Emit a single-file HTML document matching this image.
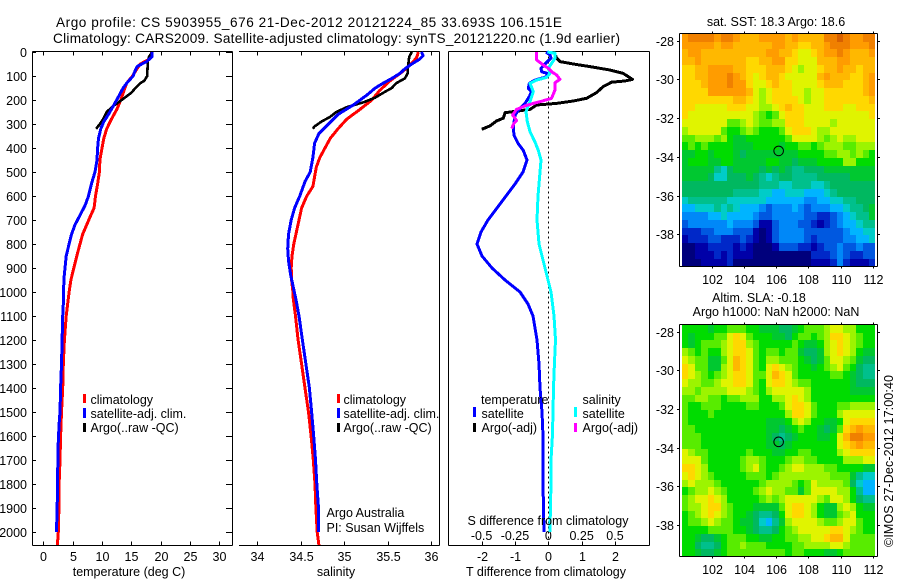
<!DOCTYPE html>
<html>
<head>
<meta charset="utf-8">
<title>Argo profile</title>
<style>
html,body{margin:0;padding:0;background:#fff;}
svg{display:block;}
text{font-family:"Liberation Sans",sans-serif;font-size:12.5px;fill:#000;}
.t{font-size:13.6px;}
</style>
</head>
<body>
<svg id="chart" xmlns="http://www.w3.org/2000/svg" width="900" height="580" viewBox="0 0 900 580">
<rect x="0" y="0" width="900" height="580" fill="#fff"/>
<text class="t" x="56" y="27" textLength="506" lengthAdjust="spacing">Argo profile: CS 5903955_676 21-Dec-2012 20121224_85 33.693S 106.151E</text>
<text class="t" x="53" y="43" textLength="567" lengthAdjust="spacing">Climatology: CARS2009. Satellite-adjusted climatology: synTS_20121220.nc (1.9d earlier)</text>

<g id="p1"></g>
<g id="p2"></g>
<g id="p3"></g>
<g id="m1"></g>
<g id="m2"></g>

<text x="129" y="576" text-anchor="middle">temperature (deg C)</text>
<text x="336" y="576" text-anchor="middle">salinity</text>
<text x="546" y="576" text-anchor="middle">T difference from climatology</text>
<text x="548" y="525" text-anchor="middle">S difference from climatology</text>

<g>
<rect x="83" y="394" width="3" height="9" fill="#f00"/>
<rect x="83" y="408" width="3" height="10" fill="#00f"/>
<rect x="83" y="423" width="3" height="9" fill="#000"/>
<text x="90.5" y="404">climatology</text>
<text x="90.5" y="418">satellite-adj. clim.</text>
<text x="90.5" y="432">Argo(..raw -QC)</text>
</g>
<g>
<rect x="337" y="394" width="3" height="9" fill="#f00"/>
<rect x="337" y="408" width="3" height="10" fill="#00f"/>
<rect x="337" y="423" width="3" height="9" fill="#000"/>
<text x="343.5" y="404">climatology</text>
<text x="343.5" y="418">satellite-adj. clim.</text>
<text x="343.5" y="432">Argo(..raw -QC)</text>
</g>
<text x="326.5" y="517">Argo Australia</text>
<text x="326.5" y="532">PI: Susan Wijffels</text>
<g>
<text x="481" y="404">temperature</text>
<rect x="473" y="407" width="3" height="10" fill="#00f"/>
<rect x="473" y="423" width="3" height="9" fill="#000"/>
<text x="481.5" y="418">satellite</text>
<text x="481.5" y="432">Argo(-adj)</text>
<text x="582.5" y="404">salinity</text>
<rect x="574" y="407" width="3" height="10" fill="#0ff"/>
<rect x="574" y="423" width="3" height="9" fill="#f0f"/>
<text x="582.5" y="418">satellite</text>
<text x="582.5" y="432">Argo(-adj)</text>
</g>

<text x="776" y="26" text-anchor="middle">sat. SST: 18.3 Argo: 18.6</text>
<text x="759" y="302" text-anchor="middle">Altim. SLA: -0.18</text>
<text x="776" y="316" text-anchor="middle">Argo h1000: NaN h2000: NaN</text>
<text transform="translate(893,547) rotate(-90)" textLength="172" lengthAdjust="spacing">©IMOS 27-Dec-2012 17:00:40</text>
</svg>

<script>
// ---------- profile data ----------
const depthTicks = [0,100,200,300,400,500,600,700,800,900,1000,1100,1200,1300,1400,1500,1600,1700,1800,1900,2000];
const tempTicks = [0,5,10,15,20,25,30];
const salTicks = [34,34.5,35,35.5,36];
const salTickLabels = ['34','34.5','35','35.5','36'];
const tDiffTicks = [-2,-1,0,1,2];
const tDiffLabels = ['-2','-1','0','1','2'];
const sDiffTicks = [-0.5,-0.25,0,0.25,0.5];
const sDiffLabels = ['-0.5','-0.25','0','0.25','0.5'];

const tempClimDepth = [0,30,50,80,100,130,160,200,240,280,320,360,400,450,500,550,600,650,680,720,760,800,850,900,950,1000,1100,1200,1300,1400,1500,1600,1700,1800,1900,2000,2054];
const tempClimValues = [18.5,18.1,16.5,15.7,15.2,14.2,13.75,13.2,12.5,11.6,10.8,10.3,10,9.65,9.55,9.25,8.9,8.65,8.1,7.4,6.7,6.25,5.7,5.2,4.7,4.4,3.9,3.6,3.4,3.3,3.1,2.95,2.85,2.7,2.65,2.55,2.4];
const tempSatDepth = [0,20,40,60,80,100,130,150,200,230,260,290,320,360,400,450,500,550,600,640,680,720,760,800,850,900,950,1000,1050,1100,1200,1300,1400,1500,1550,1650,1850,2000];
const tempSatValues = [18.5,18.5,17.6,16,15.6,15.3,14.2,13.6,12.5,11.8,11.1,10.3,9.8,9.4,9.25,9.15,8.8,8.2,7.7,7.1,6.25,5.4,4.8,4.4,3.9,3.7,3.5,3.47,3.4,3.3,3.2,3.1,2.95,2.85,2.7,2.5,2.4,2.25];
const tempArgoDepth = [0,10,20,40,100,120,130,150,170,190,210,225,250,280,300,320];
const tempArgoValues = [18.5,18.3,18,17.8,17.7,17.2,16.5,15.7,15,13.9,12.8,11.9,10.8,10.2,9.65,9];

const salClimDepth = [0,20,40,60,80,120,160,200,240,280,320,360,400,440,480,520,560,600,650,700,750,800,850,900,950,1000,1030,1100,1200,1300,1400,1500,1600,1700,1800,1900,2000,2054];
const salClimValues = [35.855,35.84,35.8,35.74,35.68,35.53,35.41,35.32,35.18,35.03,34.93,34.84,34.78,34.72,34.68,34.66,34.64,34.57,34.51,34.48,34.45,34.42,34.4,34.39,34.395,34.41,34.415,34.44,34.47,34.51,34.55,34.59,34.62,34.645,34.665,34.675,34.69,34.71];
const salSatDepth = [0,15,30,50,70,90,110,130,150,180,220,260,300,340,380,440,500,540,600,650,700,760,820,870,930,980,1030,1100,1200,1300,1400,1500,1600,1700,1800,1900,2000];
const salSatValues = [35.89,35.91,35.87,35.78,35.7,35.64,35.55,35.45,35.36,35.26,35.11,34.93,34.82,34.71,34.66,34.64,34.61,34.55,34.49,34.43,34.39,34.36,34.35,34.36,34.385,34.415,34.445,34.48,34.52,34.56,34.6,34.625,34.65,34.67,34.685,34.705,34.705];
const salArgoDepth = [0,20,50,90,110,130,150,170,190,210,230,250,270,290,310,320];
const salArgoValues = [35.78,35.75,35.74,35.73,35.7,35.6,35.55,35.45,35.36,35.22,35.03,34.91,34.84,34.74,34.66,34.64];

const tDiffArgoDepth = [12,19,40,50,61,75,89,114,121,126,144,169,193,204,214,221,239,253,276,287,308,322];
const tDiffArgoValues = [0.25,0.2,0.35,0.75,1.25,1.85,2.25,2.53,2.3,1.9,1.65,1.45,1.15,0.75,0.25,-0.35,-0.55,-1.3,-1.35,-1.55,-1.75,-2];
const tDiffSatDepth = [0,12,26,50,68,82,89,103,117,131,151,165,186,214,242,264,312,347,382,410,450,500,550,600,650,700,750,800,850,900,950,1000,1050,1100,1200,1300,1400,1500,1600,1800,2000];
const tDiffSatValues = [-0.07,0.05,0.08,-0.1,-0.22,-0.2,-0.03,-0.05,-0.4,-0.57,-0.6,-0.5,-0.57,-0.7,-0.9,-1,-1.05,-1.03,-0.9,-0.75,-0.64,-0.76,-1,-1.27,-1.54,-1.81,-2.02,-2.14,-1.99,-1.69,-1.3,-0.85,-0.61,-0.46,-0.34,-0.28,-0.25,-0.19,-0.16,-0.16,-0.13];
const sDiffSatDepth = [0,5,26,47,68,89,106,117,131,165,186,214,249,290,332,375,410,450,500,600,700,800,900,1000,1100,1200,1300,1400,1500,1600,1700,1800,1900,2000];
const sDiffSatValues = [-0.0075,0.05,0.05,0.025,0,0.0125,-0.0125,-0.0875,-0.1375,-0.1125,-0.125,-0.1425,-0.1675,-0.1575,-0.1375,-0.1,-0.075,-0.055,-0.062,-0.077,-0.085,-0.07,-0.025,0.02,0.043,0.054,0.046,0.039,0.035,0.031,0.02,0.02,0.016,0.013];
const sDiffArgoDepth = [0,19,33,54,68,82,96,114,128,158,193,207,214,225,239,262,285,298,319];
const sDiffArgoValues = [-0.0875,-0.0875,-0.0875,-0.0375,0,0.025,0.0625,0.0875,0.05,0.05,0.025,-0.0625,-0.1125,-0.175,-0.2375,-0.2675,-0.2375,-0.2575,-0.275];

// ---------- map data ----------
const mapLonTicks = [102,104,106,108,110,112];
const mapLatTicks = [28,30,32,34,36,38];
const argoLon = 106.151;
const argoLat = 33.693;
const levelColors = ['#00007c','#0000a8','#0028c8','#0058e0','#0088f8','#00b4ff','#00ccc8','#00c08c','#00b860','#00c830','#00dc00','#58ec00','#9cf400','#e0f400','#ffd800','#ffb800','#ff9c00','#f08000','#d86000'];
const sstLevels = [
[16,17,17,17,17,16,17,17,16,15,15,15,16,16,16,16,15,16,15,15,15,15,17,17,18,17,16,16,17,17],
[16,16,16,16,16,15,16,16,15,15,15,15,15,15,16,16,15,15,14,14,15,15,16,17,17,17,16,16,16,17],
[15,16,16,15,15,15,15,15,15,15,15,15,15,16,16,15,15,14,13,13,14,15,16,16,17,16,15,15,15,16],
[15,15,16,15,15,15,15,15,15,15,14,14,15,15,16,16,14,14,13,13,13,15,15,15,16,16,15,15,15,15],
[14,14,15,15,16,16,16,16,15,15,14,14,14,15,15,15,14,13,12,13,13,14,15,15,16,15,15,14,15,15],
[14,14,15,15,16,16,16,17,16,15,14,13,14,15,15,14,13,13,13,13,13,15,16,15,15,15,14,14,15,16],
[14,14,14,15,16,16,16,17,16,16,14,13,13,14,15,14,14,13,13,13,13,14,15,15,15,14,14,14,15,16],
[14,14,14,14,16,16,16,16,16,16,15,13,12,13,14,14,14,13,13,12,13,13,14,14,14,14,14,14,15,16],
[14,14,14,14,14,14,14,14,15,15,14,13,12,13,14,14,14,14,13,12,13,13,14,14,14,14,14,14,14,15],
[14,14,13,13,13,13,13,14,14,14,13,13,12,12,13,14,15,14,14,13,13,13,14,14,14,13,13,14,14,14],
[14,13,13,13,13,13,13,13,13,13,13,12,11,10,11,13,14,14,14,13,13,13,13,13,13,13,13,13,13,14],
[13,13,13,13,13,13,13,11,11,12,13,12,11,11,12,12,14,14,14,13,13,13,13,12,13,13,13,13,13,13],
[12,13,13,13,13,13,11,10,10,11,12,11,10,10,10,11,13,14,14,14,13,12,12,13,13,13,13,13,13,13],
[11,11,12,12,12,11,12,10,9,9,10,10,10,10,10,10,11,13,13,13,13,12,11,12,13,12,12,13,13,13],
[10,11,10,11,10,10,10,10,9,9,9,10,10,10,10,9,10,10,11,11,10,11,12,12,12,11,11,12,12,12],
[9,9,10,10,9,10,10,10,9,8,9,9,9,9,9,9,9,9,10,10,10,10,11,11,12,12,11,12,11,10],
[9,10,10,10,9,9,10,10,9,9,9,9,9,10,10,9,9,8,9,9,9,10,10,10,10,12,12,10,10,10],
[9,9,9,9,9,7,6,8,9,9,9,9,8,9,8,9,8,7,7,8,8,8,9,9,9,9,9,9,9,9],
[9,9,9,9,8,6,6,8,8,8,9,8,7,6,7,8,8,7,7,7,7,8,8,8,8,8,9,9,9,9],
[8,8,8,8,8,8,8,8,8,8,8,8,7,7,7,6,6,7,7,7,6,6,7,8,8,8,8,8,8,8],
[8,8,8,8,8,8,8,8,7,7,7,7,6,6,5,5,6,6,6,5,5,5,6,7,8,8,8,8,8,8],
[6,7,7,7,7,7,7,6,6,6,6,6,6,5,5,5,5,5,5,4,4,5,5,6,6,7,7,8,8,8],
[5,5,6,6,6,7,6,7,6,5,5,5,4,3,4,4,4,5,4,3,4,4,4,5,5,6,7,7,8,9],
[4,4,4,4,5,5,6,5,5,5,5,4,3,3,4,4,4,4,4,3,3,2,2,3,4,5,6,7,7,9],
[3,4,4,4,4,4,4,5,4,4,4,3,1,1,3,4,4,4,3,3,2,1,2,3,4,5,5,6,7,7],
[2,2,2,3,3,4,4,4,3,3,3,1,0,1,3,4,4,4,4,3,3,3,3,3,3,4,5,5,6,6],
[1,2,2,2,3,3,2,2,2,3,2,1,0,1,3,4,4,4,4,3,2,3,3,3,3,4,4,5,5,6],
[0,0,1,1,2,2,2,2,1,2,1,0,0,0,1,3,3,3,2,2,1,2,3,3,4,3,3,4,3,3],
[0,0,1,1,1,2,1,2,1,1,1,0,0,0,0,0,0,0,0,0,2,2,2,3,4,3,2,2,3,3],
[0,0,0,1,1,1,1,2,0,0,0,0,0,0,0,0,0,0,0,0,1,1,1,2,4,2,1,1,1,2]
];
const slaLevels = [
[10,10,10,10,9,10,10,11,11,11,10,10,9,9,9,8,8,9,10,11,11,11,12,13,13,12,12,10,10,10],
[10,9,10,10,10,11,11,13,14,13,11,10,10,10,9,9,8,10,11,11,10,11,12,14,14,13,12,11,10,10],
[10,9,10,11,11,11,12,13,14,14,12,11,10,10,10,10,10,11,10,9,9,10,12,13,14,13,12,11,10,10],
[12,11,10,11,10,10,12,13,14,14,13,11,10,11,11,10,11,11,9,8,8,9,12,13,14,13,12,10,9,9],
[13,12,11,11,9,9,11,13,15,14,13,11,10,12,12,11,11,11,10,9,8,9,11,13,13,12,11,9,8,8],
[14,13,11,11,9,9,12,13,15,14,13,11,10,13,14,13,12,11,10,10,9,10,11,12,13,11,10,8,7,7],
[14,13,12,11,10,11,12,13,14,14,13,11,11,13,15,14,13,11,10,10,10,10,10,11,11,10,9,8,7,7],
[13,12,12,11,11,12,13,13,14,14,13,11,10,13,14,14,13,12,11,11,10,10,10,10,10,10,9,8,8,8],
[12,12,11,12,12,12,12,13,13,13,12,11,10,12,13,13,13,13,13,12,10,10,10,10,10,10,9,9,9,9],
[11,11,12,12,11,11,10,11,11,12,12,12,10,10,12,12,13,14,13,12,10,10,10,10,10,10,10,10,10,10],
[11,10,10,11,11,11,10,10,10,10,11,11,10,10,10,11,13,14,14,13,11,10,10,10,11,11,12,12,12,12],
[11,10,10,10,11,10,10,10,10,10,10,10,10,10,10,10,12,14,14,13,11,10,10,10,12,13,13,13,13,13],
[11,10,10,10,10,10,10,10,10,10,10,10,10,9,9,9,10,12,13,12,10,10,9,9,10,13,14,14,14,14],
[11,11,10,10,10,10,10,10,10,10,10,10,10,9,9,8,9,10,11,10,10,9,8,9,11,14,15,16,15,15],
[11,11,11,10,10,10,10,10,10,10,10,10,10,9,8,7,8,9,10,10,10,9,9,10,13,15,17,17,16,16],
[11,11,11,10,10,10,10,10,10,10,10,10,10,9,9,8,9,10,10,10,10,10,10,10,13,14,15,16,15,15],
[13,12,11,11,10,10,10,10,10,10,11,10,10,10,9,9,10,10,11,11,10,10,10,10,12,13,14,14,14,14],
[13,13,13,11,10,10,10,10,10,11,12,12,11,10,10,10,11,12,12,11,11,10,10,10,10,12,12,12,13,13],
[14,14,13,12,10,10,10,10,10,11,12,13,11,10,10,11,12,13,13,12,12,12,11,11,10,10,10,10,9,9],
[13,14,13,12,11,10,10,10,10,10,11,11,11,10,11,12,12,12,12,12,12,12,12,11,11,11,9,7,6,6],
[12,13,12,12,12,11,10,10,10,10,10,10,11,12,12,12,12,11,10,11,13,12,12,12,12,11,8,6,5,5],
[10,11,12,12,13,12,11,10,10,10,10,11,12,13,12,12,11,11,9,11,13,13,13,13,12,12,10,7,5,5],
[11,12,13,13,14,13,12,10,10,10,10,10,11,12,11,12,13,13,13,13,13,12,11,13,13,12,10,8,7,7],
[11,12,12,13,14,14,12,11,10,10,10,9,9,9,9,11,13,14,14,13,12,10,9,9,12,13,12,10,9,9],
[10,11,12,13,14,13,12,11,10,10,9,8,7,7,8,10,13,14,14,13,12,10,9,9,11,12,13,10,10,10],
[10,11,11,12,13,12,11,11,10,9,9,8,6,5,7,9,12,13,13,13,13,12,11,11,12,13,13,11,10,10],
[10,10,10,10,11,11,11,11,10,10,9,8,7,7,8,10,11,12,13,13,13,13,13,14,14,13,12,11,10,10],
[10,10,9,8,8,9,10,11,11,11,10,10,9,9,10,10,11,11,12,12,13,13,14,15,15,13,11,11,11,11],
[10,10,8,7,7,8,10,11,11,12,11,11,11,10,10,10,10,11,11,12,12,12,12,13,13,12,11,11,11,11],
[10,10,9,8,8,9,10,11,11,11,11,11,11,11,11,11,10,11,11,10,10,10,9,9,10,11,11,11,11,11]
];

// ---------- drawing ----------
const NS = 'http://www.w3.org/2000/svg';
function mk(parent, tag, attrs, txt) {
  const el = document.createElementNS(NS, tag);
  for (const k in attrs) el.setAttribute(k, attrs[k]);
  if (txt !== undefined) el.textContent = txt;
  parent.appendChild(el);
  return el;
}
const yDepth = d => 52 + 0.24 * d;
const xTemp = v => 43.3 + 5.87 * v;
const xSal = v => 257.3 + 86.8 * (v - 34);
const xTDiff = v => 548.3 + 33.3 * v;
const xSDiff = v => 548.3 + 133.4 * v;

function axisLine(g, x1, y1, x2, y2) {
  const l = mk(g, 'line', {x1, y1, x2, y2, stroke:'#000', 'stroke-width':1, 'shape-rendering':'crispEdges'});
  
  
  return l;
}
function tickMark(g, x1, y1, x2, y2) {
  const l = mk(g, 'line', {x1, y1, x2, y2, stroke:'#000', 'stroke-width':1, 'shape-rendering':'crispEdges'});
  
  
  return l;
}
function tickLabel(g, x, y, s, anchor) {
  const t = mk(g, 'text', {x, y, 'text-anchor':anchor}, s);
  
  
  return t;
}
function profile(g, name, xf, values, depths, color, width) {
  const pts = values.map((v, i) => xf(v).toFixed(1) + ',' + yDepth(depths[i]).toFixed(1)).join(' ');
  const p = mk(g, 'polyline', {points:pts, fill:'none', stroke:color, 'stroke-width':width, 'stroke-linejoin':'round', 'shape-rendering':'crispEdges'});
  
  
  return p;
}

const p1 = document.getElementById('p1');
const p2 = document.getElementById('p2');
const p3 = document.getElementById('p3');
const L = 51.5, B = 545.5;

// panel 1
axisLine(p1, 32.5, L, 32.5, B);
axisLine(p1, 32.5, L, 232.5, L);
axisLine(p1, 32.5, B, 232.5, B);
axisLine(p1, 232.5, L, 232.5, B);
depthTicks.forEach(d => {
  const y = Math.round(yDepth(d)) + 0.5;
  tickMark(p1, 33, y, 36, y);
  tickMark(p1, 226, y, 232, y);
  tickLabel(p1, 27, y + 4.5, String(d), 'end');
});
tempTicks.forEach(v => {
  const x = Math.round(xTemp(v)) + 0.5;
  tickMark(p1, x, L, x, L + 4);
  tickMark(p1, x, B, x, B - 4);
  tickLabel(p1, x, 561, String(v), 'middle');
});
profile(p1, 'temperature-climatology-line', xTemp, tempClimValues, tempClimDepth, '#f00', 3);
profile(p1, 'temperature-argo-line', xTemp, tempArgoValues, tempArgoDepth, '#000', 2.6);
profile(p1, 'temperature-satellite-line', xTemp, tempSatValues, tempSatDepth, '#00f', 3);

// panel 2
axisLine(p2, 239, L, 439.5, L);
axisLine(p2, 239, B, 439.5, B);
axisLine(p2, 439.5, L, 439.5, B);
salTicks.forEach((v, i) => {
  const x = Math.round(xSal(v)) + 0.5;
  tickMark(p2, x, L, x, L + 4);
  tickMark(p2, x, B, x, B - 4);
  tickLabel(p2, x, 561, salTickLabels[i], 'middle');
});
profile(p2, 'salinity-climatology-line', xSal, salClimValues, salClimDepth, '#f00', 3);
profile(p2, 'salinity-argo-line', xSal, salArgoValues, salArgoDepth, '#000', 2.6);
profile(p2, 'salinity-satellite-line', xSal, salSatValues, salSatDepth, '#00f', 3);

// panel 3
axisLine(p3, 448.5, L, 448.5, B);
axisLine(p3, 448.5, L, 649.5, L);
axisLine(p3, 448.5, B, 649.5, B);
axisLine(p3, 649.5, L, 649.5, B);
tDiffTicks.forEach((v, i) => {
  const x = Math.round(xTDiff(v)) + 0.5;
  tickMark(p3, x, L, x, L + 4);
  tickMark(p3, x, B, x, B - 4);
  tickLabel(p3, x, 561, tDiffLabels[i], 'middle');
});
sDiffTicks.forEach((v, i) => {
  tickLabel(p3, xSDiff(v), 540, sDiffLabels[i], 'middle');
});
const zero = mk(p3, 'line', {x1:548.5, y1:L, x2:548.5, y2:B, stroke:'#000', 'stroke-width':1, 'stroke-dasharray':'2 3', 'shape-rendering':'crispEdges'});


profile(p3, 't-diff-argo-line', xTDiff, tDiffArgoValues, tDiffArgoDepth, '#000', 3);
profile(p3, 't-diff-satellite-line', xTDiff, tDiffSatValues, tDiffSatDepth, '#00f', 3);
profile(p3, 's-diff-satellite-line', xSDiff, sDiffSatValues, sDiffSatDepth, '#0ff', 3);
profile(p3, 's-diff-argo-line', xSDiff, sDiffArgoValues, sDiffArgoDepth, '#f0f', 3);

// maps
function drawMap(g, levels, y28, frameTop, frameBottom, labelY, cellName) {
  const xLon = lon => 711.7 + 16.13 * (lon - 102);
  const yLat = lat => y28 + 19.36 * (lat - 28);
  levels.forEach((row, r) => {
    row.forEach((lev, c) => {
      const x0 = Math.round(xLon(100.15 + 0.4 * c));
      const x1 = Math.round(xLon(100.15 + 0.4 * (c + 1)));
      const y0 = Math.round(yLat(27.65 + 0.4 * r));
      const y1 = Math.round(yLat(27.65 + 0.4 * (r + 1)));
      const cell = mk(g, 'rect', {x:x0, y:y0, width:x1 - x0, height:y1 - y0, fill:levelColors[lev], 'shape-rendering':'crispEdges'});
      
      
    });
  });
  axisLine(g, 679.5, frameTop, 679.5, frameBottom);
  axisLine(g, 877.5, frameTop, 877.5, frameBottom);
  axisLine(g, 679.5, frameTop, 877.5, frameTop);
  axisLine(g, 679.5, frameBottom, 877.5, frameBottom);
  mapLonTicks.forEach(lon => {
    const x = Math.round(xLon(lon)) + 0.5;
    tickMark(g, x, frameTop - 2, x, frameTop);
    tickMark(g, x, frameBottom, x, frameBottom + 2);
    tickLabel(g, x, labelY, String(lon), 'middle');
  });
  mapLatTicks.forEach(lat => {
    const y = Math.round(yLat(lat)) + 0.5;
    tickMark(g, 677, y, 679.5, y);
    tickMark(g, 877.5, y, 880, y);
    tickLabel(g, 674, y + 4.5, '-' + lat, 'end');
  });
  const marker = mk(g, 'circle', {cx:xLon(argoLon), cy:yLat(argoLat), r:4.8, fill:'none', stroke:'#000', 'stroke-width':1});
  
  
}
drawMap(document.getElementById('m1'), sstLevels, 40.7, 33.5, 266.5, 284, 'sst-cell');
drawMap(document.getElementById('m2'), slaLevels, 331.6, 324.5, 556.5, 574, 'sla-cell');
</script>
</body>
</html>
